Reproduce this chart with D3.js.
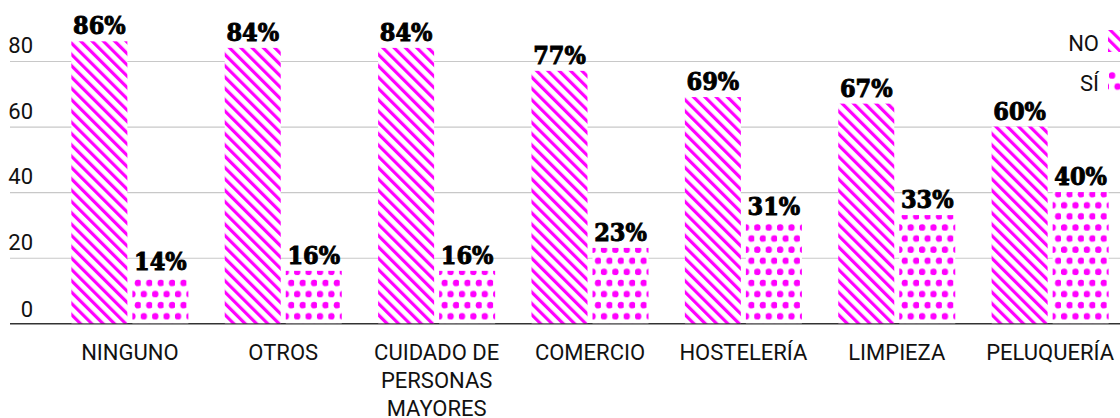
<!DOCTYPE html>
<html>
<head>
<meta charset="utf-8">
<script src="https://cdn.jsdelivr.net/npm/d3@7/dist/d3.min.js"></script>
<style>
  body { margin: 0; background: #fff; }
  .cond { font-family: Roboto, sans-serif; }
</style>
</head>
<body>
<svg id="chart" width="1120" height="418"></svg>
<script>
var categories = ["NINGUNO", "OTROS", "CUIDADO DE PERSONAS MAYORES", "COMERCIO", "HOSTELERÍA", "LIMPIEZA", "PELUQUERÍA"];
var seriesNames = ["NO", "SÍ"];
var noValues = [86, 84, 84, 77, 69, 67, 60];
var siValues = [14, 16, 16, 23, 31, 33, 40];
var yTicks = [0, 20, 40, 60, 80];

var width = 1120, height = 418;
var svg = d3.select("#chart");

// patrones
var defs = svg.append("defs");
var stripes = defs.append("pattern")
  .attr("id", "pat-no")
  .attr("patternUnits", "userSpaceOnUse")
  .attr("width", 8).attr("height", 8)
  .attr("patternTransform", "rotate(-45)");
stripes.append("rect").attr("width", 8).attr("height", 8).attr("fill", "#fff");
stripes.append("rect").attr("x", 0).attr("width", 3.2).attr("height", 8).attr("fill", "#ff00ff");

var dots = defs.append("pattern")
  .attr("id", "pat-si")
  .attr("patternUnits", "userSpaceOnUse")
  .attr("width", 11.4).attr("height", 22.2)
  .attr("x", 1).attr("y", 0);
dots.append("rect").attr("width", 11.4).attr("height", 22.2).attr("fill", "#fff");
dots.append("circle").attr("cx", 3).attr("cy", 5.5).attr("r", 3.3).attr("fill", "#ff00ff");
dots.append("circle").attr("cx", 8.7).attr("cy", 16.6).attr("r", 3.3).attr("fill", "#ff00ff");

var fills = ["url(#pat-no)", "url(#pat-si)"];

// escalas
var x0 = d3.scaleBand()
  .domain(categories)
  .range([10, 1170])
  .paddingInner(0.237)
  .paddingOuter(0.4);
var x1 = d3.scaleBand()
  .domain(seriesNames)
  .range([0, x0.bandwidth()])
  .paddingInner(0.082);
var y = d3.scaleLinear()
  .domain([0, 80])
  .range([323.3, 61]);

// rejilla
var yAxis = d3.axisLeft(y).tickValues(yTicks).tickSize(0).tickFormat(d3.format("d"));
var gy = svg.append("g").attr("class", "cond").call(yAxis);
gy.select(".domain").remove();
gy.selectAll(".tick line").remove();
gy.selectAll(".tick").append("line")
  .attr("x1", 10).attr("x2", width)
  .attr("stroke", d => d === 0 ? "#333" : "#c8c8c8")
  .attr("stroke-width", d => d === 0 ? 1.5 : 1.2);
gy.selectAll(".tick text")
  .attr("x", 33).attr("dy", null).attr("y", d => d === 0 ? -7 : -8.5)
  .attr("text-anchor", "end")
  .attr("fill", "#111")
  .style("font-size", "22px")
  .style("font-family", "Roboto, sans-serif");

var data = categories.map((c, i) => ({ cat: c, vals: [noValues[i], siValues[i]] }));

var groups = svg.append("g").selectAll("g")
  .data(data)
  .enter().append("g")
  .attr("transform", d => "translate(" + x0(d.cat) + ",0)");

groups.selectAll("rect")
  .data(d => d.vals.map((v, j) => ({ key: seriesNames[j], v: v, j: j })))
  .enter().append("rect")
  .attr("x", d => x1(d.key))
  .attr("y", d => y(d.v))
  .attr("width", x1.bandwidth())
  .attr("height", d => y(0) - y(d.v))
  .attr("fill", d => fills[d.j]);

groups.selectAll("text.val")
  .data(d => d.vals.map((v, j) => ({ key: seriesNames[j], v: v })))
  .enter().append("text")
  .attr("class", "val")
  .attr("x", d => x1(d.key) + x1.bandwidth() / 2)
  .attr("y", d => y(d.v) - 7)
  .attr("text-anchor", "middle")
  .style("font-family", "\"DejaVu Serif Condensed\", \"DejaVu Serif\", serif")
  .style("font-weight", "bold")
  .style("font-size", "25px")
  .attr("fill", "#000")
  .attr("stroke", "#000")
  .attr("stroke-width", 0.9)
  .text(d => d.v + "%");

// etiquetas de categoría
var labelLines = {
  "CUIDADO DE PERSONAS MAYORES": ["CUIDADO DE", "PERSONAS", "MAYORES"]
};
groups.append("text")
  .attr("class", "cond")
  .attr("x", x0.bandwidth() / 2)
  .attr("y", 360)
  .attr("text-anchor", "middle")
  .attr("fill", "#111")
  .style("font-size", "22px")
  .selectAll("tspan")
  .data(d => labelLines[d.cat] || [d.cat])
  .enter().append("tspan")
  .attr("x", x0.bandwidth() / 2)
  .attr("dy", (d, i) => i === 0 ? 0 : 28)
  .text(d => d);

// leyenda
var legend = svg.append("g").selectAll("g")
  .data(seriesNames)
  .enter().append("g")
  .attr("transform", (d, i) => "translate(1108," + (30 + i * 40) + ")");
legend.append("rect")
  .attr("width", 22).attr("height", 22)
  .attr("fill", (d, i) => fills[i]);
legend.append("text")
  .attr("class", "cond")
  .attr("x", -9).attr("y", 21)
  .attr("text-anchor", "end")
  .attr("fill", "#111")
  .style("font-size", "22px")
  .text(d => d);
</script>
</body>
</html>
